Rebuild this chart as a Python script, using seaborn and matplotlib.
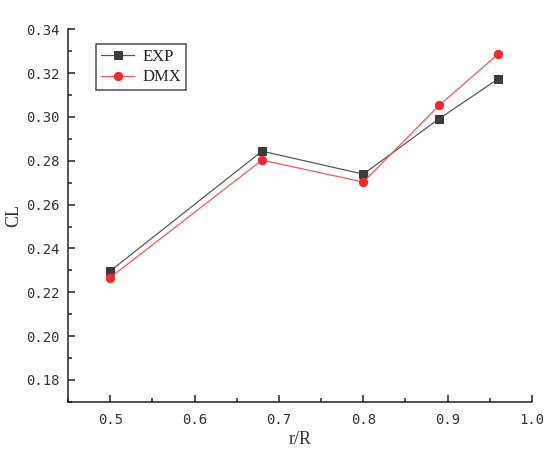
import pandas as pd
import seaborn as sns
import matplotlib.pyplot as plt
from matplotlib.ticker import MultipleLocator

# data
r_R = [0.5, 0.68, 0.8, 0.89, 0.96]
cl_exp = [0.2297, 0.2844, 0.2739, 0.2992, 0.3174]
cl_dmx = [0.2267, 0.2803, 0.2703, 0.3053, 0.3287]

df = pd.DataFrame({'r/R': r_R * 2,
                   'CL': cl_exp + cl_dmx,
                   'series': ['EXP'] * len(r_R) + ['DMX'] * len(r_R)})

sns.set_style('white')
plt.rcParams['font.family'] = ['DejaVu Sans Mono']
plt.rcParams['xtick.bottom'] = True
plt.rcParams['ytick.left'] = True

fig = plt.figure(figsize=(5.53, 4.51), dpi=100)
ax = fig.add_axes([0.123, 0.109, 0.839, 0.826])

sns.lineplot(data=df[df.series == 'EXP'], x='r/R', y='CL', ax=ax,
             color='#5a5a5a', lw=0.9, marker='s', markersize=5.5,
             markerfacecolor='#3c3c3c', markeredgecolor='#3c3c3c', label='EXP')
sns.lineplot(data=df[df.series == 'DMX'], x='r/R', y='CL', ax=ax,
             color='#f05a5a', lw=0.9, marker='o', markersize=6,
             markerfacecolor='#ee2b30', markeredgecolor='#ee2b30', label='DMX')

ax.set_xlim(0.45, 1.0)
ax.set_ylim(0.17, 0.34)
ax.xaxis.set_major_locator(MultipleLocator(0.1))
ax.xaxis.set_minor_locator(MultipleLocator(0.05))
ax.yaxis.set_major_locator(MultipleLocator(0.02))
ax.yaxis.set_minor_locator(MultipleLocator(0.01))
ax.xaxis.set_major_formatter(plt.FuncFormatter(lambda v, p: f'{v:.1f}'))
ax.yaxis.set_major_formatter(plt.FuncFormatter(lambda v, p: f'{v:.2f}'))

for s in ['top', 'right']:
    ax.spines[s].set_visible(False)
for s in ['left', 'bottom']:
    ax.spines[s].set_color('#222222')
    ax.spines[s].set_linewidth(1.1)

ax.tick_params(which='both', direction='in', colors='#222222', width=1.1,
               labelsize=10, labelcolor='#333333')
ax.tick_params(which='major', length=5)
ax.tick_params(which='minor', length=3)
ax.tick_params(axis='x', pad=8)
ax.tick_params(axis='y', pad=6)

ax.set_xlabel('r/R', family='Liberation Serif', fontsize=13, color='#333333', labelpad=3)
ax.set_ylabel('CL', family='Liberation Serif', fontsize=13, color='#333333', labelpad=3)

leg = ax.legend(loc='upper left', bbox_to_anchor=(0.06, 0.96), borderaxespad=0,
                frameon=True, fancybox=False, edgecolor='#222222', handlelength=2.0,
                borderpad=0.3, labelspacing=0.25, handletextpad=0.5,
                prop={'family': 'Liberation Serif', 'size': 12})
leg.get_frame().set_linewidth(1.1)

fig.savefig('out.png', dpi=100)
